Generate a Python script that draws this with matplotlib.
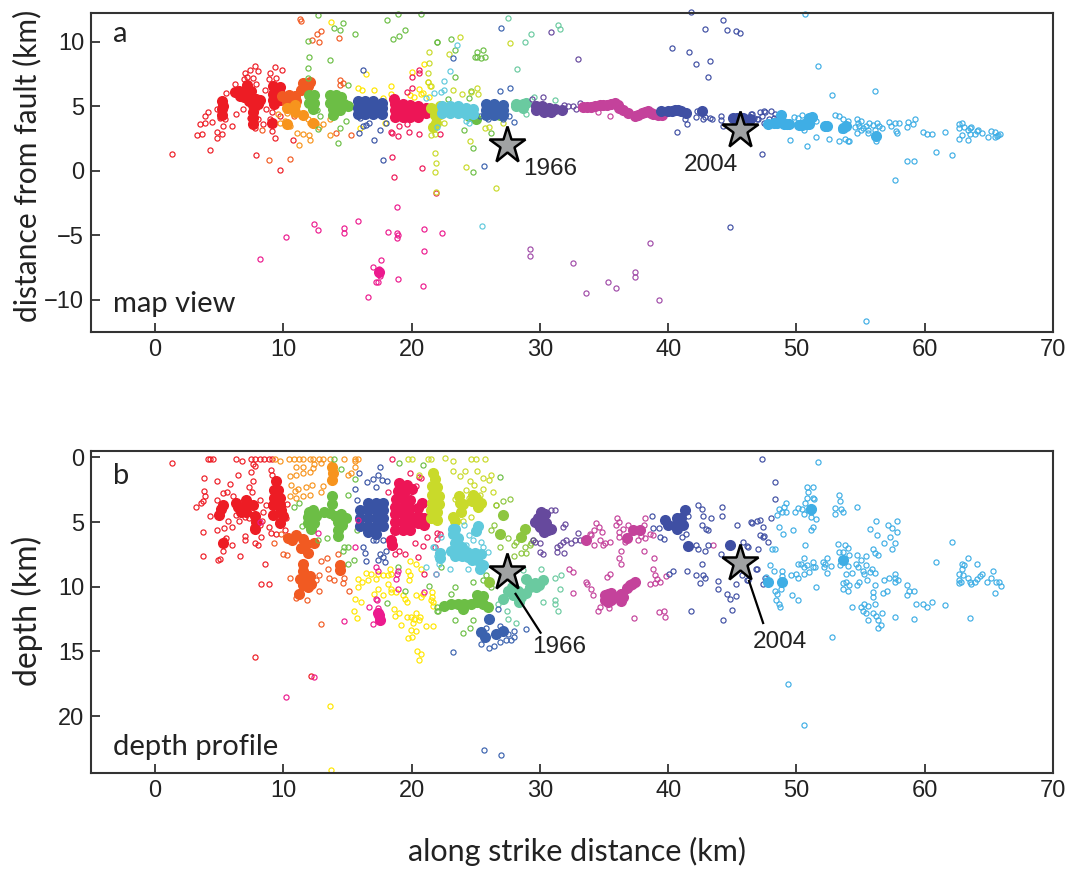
import numpy as np
import matplotlib
matplotlib.use('Agg')
import matplotlib.pyplot as plt

# colours of the clusters
c_red = '#ED1C24'
c_ored = '#F15A22'
c_orange = '#F7941D'
c_green = '#6CBE45'
c_blue = '#3953A4'
c_crim = '#ED1556'
c_pink = '#EC1A8E'
c_yellow = '#FFE600'
c_lime = '#C9DA2A'
c_cyan = '#5FC9DC'
c_lgreen = '#8DC63F'
c_blue2 = '#3B62AE'
c_teal = '#6ACAA0'
c_purple = '#66499D'
c_mag = '#C4429B'
c_vio = '#A04BA8'
c_indigo = '#3F4FA3'
c_sky = '#3FAEE5'

# ---- panel a, map view (along strike km, distance from fault km)
# *_core are the spots where the events overlap into a solid patch
red_a = [(1.33,1.32),(4.27,1.63),(3.25,2.75),(3.69,2.88),(3.51,3.6),(3.85,3.73),(3.9,4.25),(4.14,4.59),(4.45,3.81),(4.79,2.56),
 (4.84,3.0),(5.18,2.88),(5.31,3.52),(5.41,3.99),(5.02,4.12),(4.81,4.77),(5.49,6.04),(5.98,3.47),(6.32,4.43),(6.24,6.71),
 (6.84,4.82),(6.97,7.56),(7.36,7.82),(7.75,8.13),(8.01,7.75),(7.62,7.23),(7.83,6.71),(8.58,6.27),(8.97,7.62),(9.34,8.03),
 (9.88,7.8),(9.44,7.23),(8.01,3.99),(7.75,3.34),(8.4,3.6),(9.1,3.08),(9.31,2.56),(9.7,4.25),(10.74,2.36),(7.83,1.22),
 (9.7,0.1),(7.88,4.77),(8.66,4.77),(8.92,3.99),(7.36,4.12),(8.14,5.41),(6.9,7.1),(7.2,7.3),(8.9,7.1),(9.1,4.6)]
red_a_core = [(5.2,5.4),(5.3,5),(5.2,4.8),(5.2,4.3),(6.2,6.1),(6.5,6.2),(7,6.2),(7.5,6.2),(6.9,5.7),(7.4,5.7),
 (7.9,5.6),(7.2,6.7),(7.3,5.4),(7.6,5.1),(8,5.2),(8.2,5.5),(6.6,5.8),(7.6,4.6),(7.6,4.1),(7.6,3.6),
 (9.2,6.6),(9.7,6.5),(9.2,6),(9.7,6),(9.2,5.5),(9.7,5.5),(9.3,5.2),(9.1,3.7)]
ored_a = [(11.3,11.8),(11.4,11.6),(12.95,10.85),(12.6,10.65),(12.2,10.15),(12.75,10),(14.3,10.3),(14.4,7.05),(14.65,6.8),(14.4,6.7),
 (8.9,0.83),(10.55,0.96),(15.3,2.8),(14.1,2.95),(8.3,3.15),(10.8,4.25)]
ored_a_core = [(9.9,5.8),(10.4,5.9),(10.9,5.8),(10.3,5.3),(11,5.4),(11.4,6.3),(11.9,6.6),(12.1,6.9),(11.5,6.8)]
orange_a = [(11.2,2),(12,2.75),(12.1,2.4),(11.5,2.9),(11.05,2.95),(10.5,3.5),(9.6,4.4),(9.7,3.7),(13.65,2.8),(13.1,3.6),
 (12.55,3.75),(12.05,3.75),(11.9,4),(13.6,4),(10.5,5),(11,4.75),(11.5,4.5),(10.25,4.5),(12.8,3.4),(10.1,3.9)]
orange_a_core = [(10.3,4.9),(10.9,4.6),(11.5,4.3),(10.9,5.1),(12.3,3.7),(10.3,3.6)]
green_a = [(12.7,12.1),(11.9,10.1),(13.95,11.1),(14.45,10.9),(14.65,11.5),(15.6,10.65),(18.1,11.7),(18.9,12.2),(20.75,12.15),(19.45,10.9),
 (19,10.45),(18.55,10.2),(22,10),(12,8.85),(13.65,8.6),(11.9,7.95),(11.9,7.2),(15,6.7),(14.25,2.2),(12.7,3.25),
 (14.45,3.3),(14.9,3.85),(12.85,4.25),(12.6,4.75),(21.96,10),(23.1,10.25),(23.4,9.4),(23.35,7.3),(25.1,9.2),(25.55,9.4),
 (24.9,8.85),(25.1,8.85),(25.4,8.75),(25.75,8.85),(24.05,3.15),(24.8,1.75),(24.8,-0.1),(26.2,2.95),(22.8,5.55),(24.5,5.65),(24.65,6.2)]
green_a_core = [(12,5.9),(12.4,5.9),(12,5.3),(12.4,5.3),(12.3,4.8),(13.6,5.9),(14.1,5.9),(14.5,5.7),(13.6,5.3),(14.1,5.3),
 (14.7,5.2),(15,5),(13.9,4.8),(14.4,4.7),(13.9,4.3),(26.85,4.3),(24.5,4.25),(25,4.05)]
yellow_a = [(13.7,11.55),(16.45,7.55),(20.05,7.7),(21,8.3),(15.8,6.45),(16.1,6.3),(17.1,6.3),(18.35,6.6),(18.4,5.95),(19.85,5.9),
 (20.6,6.35),(20.2,5.75),(15.95,3.3),(17.9,3.75),(17.75,5.65),(20.9,6.05),(21.25,6.9),(21.4,6.6),(20.75,5.95),(21.35,5.7)]
blue_a = [(16.2,7.8),(15.9,2.95),(16.2,3.45),(16.45,3.55),(17.05,2.4),(17.55,3.2),(17.8,0.85),(18,3.7),(15.95,4.1),(16.7,3.75)]
blue_a_core = [(15.8,5.4),(16.4,5.4),(17,5.4),(17.7,5.3),(15.8,4.9),(16.4,4.9),(17,4.9),(17.7,4.9),(15.8,4.4),(16.4,4.4),
 (17,4.4),(17.7,4.4)]
crim_a = [(18.4,3),(18.5,2.95),(18.9,2.7),(19.8,3.05),(20.55,2.9),(18.5,1.05),(18.65,-0.5),(20.8,0.2),(21.9,-1.7),(22.2,2.9),
 (20,7.3),(20.55,7.8),(20.6,7.6),(19.6,6.15),(20.05,6.45),(19.05,3.45),(19.6,3.6)]
crim_a_core = [(18.7,5.2),(19.3,5.2),(19.9,5.1),(20.5,5),(21.1,4.9),(18.7,4.7),(19.3,4.7),(19.9,4.7),(20.5,4.7),(21.1,4.5),
 (18.7,4.2),(19.3,4.2),(19.9,4.2),(20.5,4.2),(18.6,5.6)]
pink_a = [(8.15,-6.8),(10.2,-5.1),(12.4,-4.15),(12.7,-4.6),(14.75,-4.4),(14.75,-4.8),(15.85,-3.9),(18.15,-4.75),(18.85,-2.8),(18.85,-4.85),
 (18.9,-5),(18.85,-5.2),(21,-4.5),(21,-6.2),(17.6,-6.95),(17,-7.45),(18.9,-8.4),(17.2,-8.6),(17.4,-8.6),(16.6,-9.75),
 (20.9,-8.9),(22.4,-4.85),(17.45,-7.6),(17.35,-8),(17.5,-8.15)]
pink_a_core = [(17.45,-7.85)]
lime_a = [(21.35,9.2),(21.35,8.4),(21.3,7.6),(21.25,6.9),(21.5,6.6),(21.85,1.35),(21.9,0.65),(21.85,-0.1),(21.9,-1.65),(22.9,9.1),
 (23.8,10.4),(26.55,-1.35),(24.55,2.3),(24.25,0.3),(25.7,3.3),(26,3.4),(27.1,3.75),(25.1,6.45),(25.2,6),(24.65,6.15),
 (23.2,6.3),(22.55,3.75),(21.5,2.8),(21.8,2.9),(21.4,4.8),(23.9,5.95),(27.65,9.95)]
lime_a_core = [(21.85,4.3),(21.9,3.7),(21.5,4.9),(22.2,5),(22.2,4.4),(21.7,3.4)]
cyan_a = [(23.5,9.75),(23,7.75),(22.5,6.95),(22.3,6.1),(21.75,6.05),(22.55,6.3),(24.5,3.7),(25.45,-4.3),(21.95,3.4),(24.25,3.85),(21.1,5.65)]
cyan_a_core = [(22.4,5),(23,5),(23.6,5),(24.2,4.9),(24.8,4.8),(22.4,4.5),(23,4.5),(23.6,4.5),(24.2,4.4),(24.8,4.4)]
blue2_a = [(26.95,11.1),(23.25,8.75),(26.85,6.2),(27.7,6.45),(25.65,0.4),(28,3.8),(27.6,4.25),(25.3,4.25),(25.95,4.05),(27.1,4)]
blue2_a_core = [(25.8,5.2),(26.4,5.2),(27.1,5.1),(25.8,4.7),(26.4,4.7),(27.1,4.7),(25.8,4.3),(26.4,4.3),(27.1,4.3)]
teal_a = [(27.5,11.9),(31.4,11.35),(31.6,11),(29.3,10.65),(28.8,10),(28.2,7.9),(29.5,5.75),(31.15,5.5),(28.9,4.45)]
teal_a_core = [(28.1,5.2),(28.7,5.2),(28.1,5),(28.7,4.9),(28.9,5.3)]
purple_a = [(30.85,10.8),(33,8.7),(30.25,5.75),(29.4,5.55),(31.85,5.15),(32.2,5),(32.55,5),(32.85,4.8),(33.1,5.25),(31.9,4.75)]
purple_a_core = [(29.7,5),(30.2,5),(30.7,4.9),(31.2,4.8),(31.7,4.7),(29.7,4.7),(30.3,4.6),(30.9,4.6)]
vio_a = [(29.2,-6.05),(29.2,-6.6),(32.55,-7.15),(33.6,-9.45),(35.3,-8.6),(35.95,-9.1),(37.4,-7.85),(37.4,-8.25),(38.6,-5.6),(39.3,-10)]
mag_a = [(34.5,4.55),(35.5,4.25)]
mag_a_core = [(33.35,4.95),(33.7,4.95),(34,4.95),(34.3,5),(34.65,5.1),(34.95,5.1),(35.25,5.15),(35.55,5.2),(35.85,5.3),(36.05,5.1),
 (36.2,4.9),(36.5,4.75),(36.9,4.5),(37.4,4.25),(37.65,4.35),(37.95,4.5),(38.2,4.55),(38.45,4.65),(38.65,4.5),(38.85,4.4),(39.2,4.3),(39.5,4.3)]
indigo_a = [(41.75,12.3),(44.3,11.7),(42.85,11),(44.6,10.9),(45.25,10.85),(45.6,10.7),(40.3,9.5),(41.6,9.25),(42.2,8.3),(43.25,8.5),
 (43.1,7.25),(40.7,3.05),(41.45,3.6),(41.3,4),(42.2,4.2),(42.75,4.05),(43.25,4.1),(42.85,4.2),(43.45,4.05),(42.25,4.65),
 (44.15,4.25),(44.3,3.45),(44.15,3.95),(46.5,4.45),(47.15,4.55),(47.55,4.6),(47,4),(47.3,1.3),(44.8,-4.35),(46.7,4.1),
 (46.45,4.45),(47.5,4.65),(48.05,4.65),(48.3,4.4),(48.25,4.1),(46.95,4),(47.5,3.7),(47.35,4.25),(47.85,4.05)]
indigo_a_core = [(39.45,4.65),(40,4.65),(40.3,4.65),(40.5,4.75),(40.8,4.7),(41,4.65),(41.4,4.5),(42.6,4.65),(45.05,4.1),(45.4,4.1),(45.8,4.1),(46.35,4)]
sky_a = [(50.7,12.2),(51.7,8.1),(52.75,5.85),(56.1,6.2),(49.5,2.4),(50.8,1.9),(51.55,2.65),(52.5,2.45),(53.35,2.35),(53.75,2.5),
 (54,2.35),(54.1,2.35),(53,4.3),(53.35,4.25),(53.6,4),(54,3.85),(54.7,4.05),(55,3.9),(54.7,2.95),(55.55,2.95),
 (56.2,2.35),(55.65,3.75),(56.3,3.75),(56.7,3.35),(57.25,3.8),(57.65,3.7),(58,3.75),(57.4,3.45),(58.7,3.8),(59.25,4),
 (59.05,3.6),(58.65,3.4),(59.85,3),(60.2,2.9),(60.6,2.9),(61.55,3),(60.9,1.5),(62.1,1.2),(58.65,0.8),(59.15,0.8),
 (57.65,-0.7),(55.45,-11.65),(62.65,2.45),(63.35,2.4),(62.9,2.8),(62.65,3.35),(62.7,3.6),(62.9,3.7),(63.05,3.4),(63.35,3.15),
 (63.55,3.35),(63.6,3.4),(63.5,2.9),(63.95,2.9),(64.05,3.1),(64.15,3.2),(64.5,2.95),(64.95,2.65),(65.15,3.1),(65.45,3.05),
 (65.45,2.6),(65.6,2.7),(65.7,2.8),(65.9,2.9),(49.8,4.15),(50.1,4.1),(50.45,4.3),(50.6,3.15),(51.5,3.85),(53.45,3.15),
 (54.6,3.4),(54.9,3.45),(55.2,3.3),(55.4,3.45),(55.6,3.2),(55.95,3.55),(56.15,3.2),(56.4,3.5),(57.75,3.1),(57.8,2.95),(55,3.2),(54.8,3.7)]
sky_a_core = [(47.75,3.6),(48.25,3.7),(48.5,3.7),(48.8,3.85),(49.05,3.6),(49.25,3.6),(49.45,3.6),(50.2,3.55),(50.4,3.55),(50.6,3.6),
 (50.8,3.6),(51,3.6),(51,3.9),(51,4.1),(51.2,4.2),(52.2,3.5),(52.4,3.5),(53.6,3.3),(53.9,3.5),(48.8,4.3),(56.2,2.7)]

# ---- panel b, depth profile (along strike km, depth km)
red_b = [(1.3,0.4),(4.1,0.1),(4.3,0.1),(4.5,0.1),(3.8,1.55),(4.85,1.8),(3.8,2.6),(3.9,2.95),(3.7,3.35),(3.55,3.55),
 (3.2,3.85),(4.25,4.55),(3.7,5.8),(3.7,7.6),(4.8,5.6),(5.4,5.45),(6,5.4),(4.85,3.3),(5.3,2.75),(5.6,2.7),
 (5.8,2.05),(6.45,1.35),(6.3,0.1),(6.75,0.3),(6,6.8),(6.6,7.65),(4.9,7.95),(5.05,7.85),(5.3,7.25),(5.2,6.7),
 (5.4,6.4),(5.55,6.2),(7,6.1),(7,6.4),(7.8,6.65),(8,6.75),(8.25,6.15),(8.55,8.2),(8.25,9.75),(8.9,9.75),
 (7.75,15.45),(12.15,16.9),(7.5,0.1),(7.8,0.1),(8.15,0.1),(8.5,0.1),(8.9,0.1),(9.1,0.15),(7.6,0.5),(7.75,0.65),
 (7.5,1.15),(7.65,1.8),(7.35,2.3),(7.55,2.65),(6.3,4.45),(7,4.6),(7.35,4.7),(7.6,5.35),(7.9,4.7),(8.15,5.2),
 (8.4,4.2),(9.05,0.95),(9.1,1.35),(8.65,3.7),(8.9,5.35),(9.05,5.85),(9.45,5.95),(10.1,5.6),(5.7,4.9),(6.5,4.9),
 (6.1,3),(8.2,3.3),(8.3,4.9),(10.3,3.6),(10.2,4.7)]
red_b_core = [(5.15,3.95),(5.3,3.7),(5,4.45),(6.3,3.5),(6.45,3.8),(6.7,4.2),(6.9,3.8),(7.1,3.3),(7.1,4.2),(7.2,3.7),
 (7.6,3.7),(7.8,4.5),(7.9,5),(7.8,5.5),(5.3,6.65),(9.45,1.85),(9.6,2.5),(9.3,2.5),(9.3,3.15),(9.7,3.1),
 (9.7,3.7),(9.2,3.7),(9.2,4.45),(9.85,4.05),(9.7,5.1),(10,4.5)]
ored_b = [(9.95,7.5),(10.25,7.55),(10.55,9.35),(11,10.85),(11.85,11),(12.8,10.35),(12.95,12.85),(15.1,10.35),(14.25,7.5),(13.95,9.45),
 (13.55,9.3),(14.65,9.7),(14.7,9.3),(13.4,7.75),(12.95,8),(12.8,9.1),(13.45,8.6),(12.55,9.5),(9.3,6.6),(9.8,5.9)]
ored_b_core = [(10.35,6.2),(11,6),(10.7,6.4),(11.5,6.3),(11.8,6.7),(11.4,7),(11.9,7.4),(11.5,8.2),(11.5,8.8),(11.8,9.4),
 (11.3,9.4),(11.5,9.9),(12.15,9.75),(11.9,10),(14.4,8.35),(14.4,8.7),(12.4,6.65),(11.25,10.55),(12.1,9.2)]
orange_b = [(9.35,0.1),(9.7,0.25),(10.4,0.1),(10.8,0.1),(11.2,0.1),(11.5,0.1),(12.05,0.1),(12.3,0.1),(12.8,0.1),(13.1,0.1),
 (13.6,0.1),(14.75,0.1),(15.55,0.1),(15.8,0.1),(15.6,0.25),(11,0.75),(11.55,0.7),(10.5,1.45),(11,1.35),(11.5,1.2),
 (12.05,1.1),(12.3,0.85),(11.8,2.25),(12.2,2.1),(10.6,2.1),(11.1,2.4),(10.5,3),(11,3.15),(11.5,3),(12.05,2.9),
 (12.95,2.65),(13.1,2.2),(15.05,1.35),(15.3,1.2),(15.55,0.75),(12.4,0.5),(12.9,0.4),(10.9,2.6)]
orange_b_core = [(13.75,0.7),(13.85,1.2),(13.75,1.75)]
green_b = [(10.8,3.8),(11.25,3.55),(11.45,5.3),(12.7,6.4),(13.4,6.25),(14.5,0.9),(13.95,0.15),(15,6.9),(14.7,6.9),(14.65,7.25),
 (15.5,7.95),(15,8.25),(15.6,1.65),(15,2.9),(15.7,5.6),(19,0.45),(20.9,0.6),(18.95,8.45),(21.35,9.95),(19.5,10.3),
 (18.1,11.25),(22,11.6),(22,11.85),(23.35,10),(23.1,10.55),(24.75,9.6),(25.55,9.5),(25.95,9.75),(26.2,10),(23.35,12.55),
 (24.8,12.55),(24,13.55),(24.55,13.2),(22.05,11.85),(26.9,1.5),(25.8,9.1),(22.3,8.5)]
green_b_core = [(11.9,4.6),(11.9,5.1),(12.15,5.5),(12.4,5.1),(12.55,4.5),(12.3,4.1),(12,4.2),(13.75,3),(13.75,3.6),(13.6,4.3),
 (14,4.5),(14.5,4.4),(14.9,4.7),(14.25,5),(14.6,5.2),(14.25,5.6),(14.25,6.1),(13.2,4.2),(22.55,11.45),(23.1,11.3),
 (23.6,11.3),(24.1,11.3),(24.6,11.3),(25.1,11.2),(25.6,11.3),(25.95,11.6),(25.1,10.65),(25.6,10.7),(24,11.7)]
blue_b = [(17.5,0.75),(17.4,1.35),(17,1.65),(16.5,1.9),(17.65,1.75),(18.05,1.8),(17.25,2.25),(15.6,2.45),(15.9,1.2),(15.7,3.3),
 (16.2,6.9),(16.35,7.4),(16.45,8),(17.5,7.45),(17.75,7.7),(18,7.2),(17.75,6.4),(17.2,6.4),(16.95,6.35),(17.9,8.1),(17.4,7.95)]
blue_b_core = [(16.6,3.5),(17.2,3.5),(17.8,3.5),(16,4.1),(16.6,4.1),(17.2,4.1),(17.8,4.1),(16,4.7),(16.6,4.7),(17.2,4.7),
 (17.8,4.7),(16,5.3),(16.6,5.3),(17.2,5.3),(17.8,5.3),(16.6,5.8),(17.2,5.9)]
crim_b = [(18.5,0.1),(20.75,1.55),(19.85,1.2),(18.15,2.7),(20.5,7.7),(19.45,7.5),(19.05,7.2),(18.7,7.45),(20.25,6.65),(20.9,6.85),
 (21,9),(21.85,2.95),(21.2,6.15),(22,5.85),(22.2,5.9),(22,6.3),(21.8,6.9),(20.6,1.5),(20.3,2.2)]
crim_b_core = [(19.05,2),(19.6,2.1),(20,2.4),(18.9,2.6),(19.5,2.6),(18.8,3.2),(19.4,3.2),(19.9,3.3),(18.7,3.8),(19.3,3.8),
 (19.9,3.9),(20.5,3.9),(20.8,3.5),(18.7,4.4),(19.3,4.4),(19.9,4.5),(20.5,4.5),(21,4.7),(18.7,5),(19.3,5),
 (19.9,5.1),(20.5,5.1),(21,5.2),(18.7,5.6),(19.3,5.6),(19.9,5.6),(18.4,6.4),(18.5,6.8)]
pink_b = [(8.15,5),(12.7,5.85),(15.85,4.85),(15.6,6.9),(12.4,17),(10.2,18.5),(14.75,12.65),(17,12.9),(16.65,11.6),(17.2,10.95),
 (17.3,11.05),(17.35,11.65),(17.25,8.45),(17.35,8.75),(18.9,8.75),(18.85,9),(18.8,9.4),(18.9,10.2),(20.95,10.4),(21.9,9)]
pink_b_core = [(17.45,12.2),(17.5,12.6),(17.35,12)]
yellow_b = [(13.6,19.2),(13.7,24.15),(16.45,8.9),(16.8,9),(15.8,9.4),(16.1,9.6),(15.8,10),(17.25,9.4),(16.6,9.5),(17.4,9),
 (17.75,9.1),(18.15,9.1),(18.4,9),(18.3,8.6),(18.15,9.75),(18.4,10.15),(18.4,10.4),(18.8,10.4),(17.4,10.2),(17.05,10.55),
 (17.75,10.65),(15.55,10.95),(16.05,11.2),(15.5,11.85),(15.7,12.45),(18.6,11.7),(19.05,12),(18.7,12.25),(19.2,12.95),(19.45,10.95),
 (19.6,11.2),(19.35,10.65),(20.3,10.6),(20.9,10.55),(20.75,10.8),(20.35,12),(19.95,12.35),(20.2,12.5),(20.65,12.35),(19.65,12.3),
 (20.1,12.8),(20.6,12.6),(19.95,13.35),(20.3,13.4),(19.75,13.95),(20,13.85),(20.4,15),(20.75,15.2),(20.6,15.7),(21.15,13.05),
 (21.65,13),(21.55,10.8),(21.65,11.2),(21.6,10.4),(19.85,8),(20.35,8.2),(19.7,8.75),(19.85,9.1),(19.8,9.5),(20.75,8.6),
 (21.5,11.05),(21.65,11.45)]
lime_b = [(21.25,0.1),(21.5,0.1),(22.6,0.05),(23.2,0.25),(24.65,0.1),(25,0.1),(25.75,0.1),(23.2,1.05),(23.75,1.4),(24.15,1.05),
 (25.1,1.05),(24.55,1.8),(25.55,1.55),(26.2,1.35),(26.05,1.75),(24.85,2.1),(25.6,2.4),(24.25,2.5),(26.55,3.7),(24.65,4.6),
 (24.5,3.15),(19.7,0.1),(20,0.1),(20.6,1.35),(26.35,2.65),(25.3,2.9),(23.4,3.2),(24,4.9)]
lime_b_core = [(21.65,1.2),(21.8,1.7),(21.6,2.2),(22,2.3),(21.6,2.9),(22.1,3),(21.6,3.5),(22.1,3.6),(21.5,4.1),(22,4.2),
 (21.5,4.7),(22,4.8),(23.7,3),(23.75,3.55),(24,3.6),(23.85,4.2),(23.4,4.9),(24.7,3.4),(25.05,3.15),(25.4,3.5),(25.15,3.8),(23.2,4.6),(24.8,2.9)]
cyan_b = [(22.3,6.15),(21.7,6.9),(24.1,5.25),(24.5,6),(24.75,6.4),(24.25,6.8),(25.55,6.9),(25.95,7.3),(22.15,8.2),(22.95,8.65),
 (24.4,8.6),(21.75,6.9),(21.9,9),(21.1,8.45),(21.95,7.6),(25.4,6.5)]
cyan_b_core = [(23.2,5.5),(23.4,5.5),(23.2,5.9),(23.6,6.2),(23.4,6.6),(23.9,6.9),(23.5,7),(24.3,7.3),(23.4,7.6),(23.9,7.6),
 (24.4,7.7),(24.7,7.9),(24.9,7.4),(25.1,7.9),(25.4,7.5),(25.3,8.6),(25.6,8.3),(25.15,5.3),(25,5.7),(22.2,7.8),(23.1,7.2),(22.2,7.4)]
lgreen_b = [(27.65,3.25),(27.15,3.4),(26.55,3.7),(26.45,5.25),(26.2,5.6),(27.5,6.25),(26.85,6.9),(28,6.8),(28.15,6.5),(28.8,6.9),
 (29.2,6.8),(27.95,7.65),(28.55,7.4),(28.95,7.4),(29.3,6.6),(29.45,6.4)]
lgreen_b_core = [(28.8,5.5),(28.55,6.15),(26.85,5.95),(27.1,4.45),(26,9.6)]
teal_b = [(30.05,8.65),(31.2,9.3),(31.65,9.1),(31.6,10.2),(30.25,11.15),(31.15,11.05),(31.4,11.9),(31.15,11.3),(27.5,12.5),(27.4,11.9),
 (28.15,12.8),(26.7,11.3),(28.7,8.7)]
teal_b_core = [(27.5,10.3),(27.8,10),(27.9,10.6),(28.3,10.3),(28.5,10.8),(28.95,9.4),(29.2,10),(29.6,9.7),(29.7,10),(29.9,9.9),
 (30.25,9.5),(28.4,11.2),(27.1,10.95),(28.9,10.5)]
blue2_b = [(26.7,11.7),(26.05,14.75),(26.45,14.55),(25.4,14.45),(26.85,14.3),(27.35,14.1),(27.75,14.1),(28,13.9),(28,13.4),(27.5,13.65),
 (28.9,13.3),(26.85,13),(25.8,13.15),(23.25,15.05),(25.65,22.6),(26.95,23)]
blue2_b_core = [(25.4,13.5),(25.7,13.9),(26.6,13.65),(27.15,13.4),(26.05,12.5)]
purple_b = [(31.15,4.05),(30.9,4.05),(31.95,5.15),(31.8,5.35),(30,7.3),(30.25,7.5),(31.3,7.3),(31.85,7.35),(31.55,6.8),(31.3,6.9),
 (31.8,6.5),(32.05,6.35),(32.4,6.65),(32.7,6.35),(32.95,5.85),(33.1,6.4),(29.6,6.5),(30,6.65),(29.45,6.35)]
purple_b_core = [(29.85,4.7),(30.25,4.6),(30.5,5.1),(30,5.35),(30.9,5.5),(30.35,5.75),(30.1,4.2),(30.4,4.4),(29.9,5.2),(30.6,5.6),(29.6,5),(30.5,5.3)]
mag_b = [(34.4,5.1),(34.6,5.35),(34.8,5.75),(34.25,5.6),(33.9,5.9),(34,6),(34.65,6.4),(35.05,6.65),(35.45,6.5),(34.2,6.8),
 (34.9,6.8),(36,4.65),(36.15,5),(35.9,5.2),(36.15,5.75),(36.2,6.15),(36.6,6.5),(37.15,5.5),(37.65,6.4),(38.2,4.65),
 (38.15,5.25),(38.55,5.9),(38.8,6),(38.1,7.2),(38.9,7.75),(36.3,7.25),(36.2,7.8),(36.35,8.2),(35.5,9.05),(35.2,9.25),
 (33.6,9.6),(33.7,9.8),(33.95,10.15),(34.15,10.65),(32.55,10.45),(34.5,11.85),(34.65,11.6),(35.4,11.65),(37.3,12.4),(39.25,11.95),
 (39.65,11.9),(39.75,12.3),(38.85,8.65),(38.95,9.1),(39.1,9.4),(38.6,9.75),(39,9.7),(39.35,9.6),(39.8,9.2),(32.25,8.6),
 (32.55,8.85),(43.5,6.8),(36.5,5.5),(37.9,6.1),(38.2,6.2),(36.9,5.2)]
mag_b_core = [(33.6,6.4),(35.05,10.6),(35.3,10.55),(35.55,10.5),(35.1,11),(35.3,11.2),(35.55,11),(36.2,10.8),(36.35,10.55),(36.5,10.8),
 (36.35,11.1),(36.8,10.1),(37,9.9),(37.2,9.8),(37.4,9.65),(37.25,5.6),(37.8,5.6),(36.75,6.25)]
indigo_b = [(38.7,4.55),(38.85,5.45),(39.25,5.45),(39.35,6.15),(39.7,6.3),(41.1,6.15),(41.4,5.95),(41.55,4.55),(42.3,3.7),(42.6,4),
 (42.7,4.55),(43.35,4.7),(42.65,5.25),(42.95,5.5),(43.1,5.6),(44.2,3.85),(44.2,4.5),(45.35,5.25),(42.2,6.8),(42.35,7.05),
 (42.85,7.2),(43.1,6.8),(44.15,7.5),(46.25,6.9),(47,7.05),(46.5,5.05),(47.15,4.85),(47.4,5.35),(47.15,6),(47.4,6.15),
 (47.3,0.1),(41.45,8.8),(42.65,8.2),(42.2,9.1),(42.7,9.1),(42.85,9.3),(42.45,9.7),(40.35,8.75),(40.1,9),(43.9,9.55),
 (43.9,10.15),(44.6,10.55),(44.8,10.95),(45.25,9.8),(45.25,10.75),(46.25,9.45),(46.95,8.65),(45,11.8),(44.3,12.55),(41.75,11.85),
 (48.3,1.9),(48.35,3.25),(48.05,4.7),(46.95,4.95),(46.45,5),(47.8,6.5),(47.5,6.1),(45.85,6.55),(46.15,6.85),(46.85,8.65),
 (45.75,9.1),(46.15,9.45),(47.55,9.3),(47.4,9.8)]
indigo_b_core = [(39.75,4.85),(40,5.25),(40.65,4.7),(41,4.7),(40.7,5.1),(41.15,5.25),(41.3,4.05),(40.65,5.5),(41.55,6.85),(44.8,6.8)]
sky_b = [(51.7,0.35),(53.35,2.9),(53.4,3.4),(54.7,3.85),(53,3.9),(53.5,3.95),(53,4.35),(53.65,4.25),(49.15,3.55),(48.65,3.95),
 (49.05,3.8),(48.9,4.2),(49.15,4.2),(48.5,4.45),(49.85,4.25),(50.1,3.9),(50.45,3.95),(49.7,5.6),(48.65,5.35),(48.95,5.9),
 (50.7,6.8),(50.85,2.3),(51.25,2.3),(50.9,2.65),(50.85,3.15),(51.25,3.15),(50.65,3.55),(51.4,3.25),(51.1,5.6),(51.25,5.35),
 (51.5,4.75),(50.6,4.35),(48.1,7.1),(48.35,7.1),(47.9,8.35),(48.25,8.8),(47.65,9.25),(48.4,11.05),(48.6,11.3),(48.7,11.6),
 (49.65,10.6),(50.15,11),(49.55,9.1),(49.95,9),(50.15,9.3),(50.35,8.2),(50.1,8.2),(50.6,7.8),(50.6,8.5),(50.85,8.35),
 (51.25,8.1),(51.25,8.5),(51,8.85),(50.6,9),(51.45,8.5),(51.55,10.05),(52.05,8.1),(52.4,7.8),(52.15,8.5),(52.4,8.95),
 (52.7,8.4),(52.25,8.2),(52.75,13.85),(49.35,17.5),(50.55,20.7),(53.2,6.7),(53.8,6.8),(54,7),(53.35,7.3),(53.6,7.3),
 (54.1,7.55),(53.4,8.35),(54,8.4),(54.75,7.55),(55.45,7.65),(54.65,8.2),(55.05,7.95),(55.4,8.35),(54.8,8.45),(55.15,8.75),
 (55.25,9.05),(55.7,8.85),(55.9,8.6),(56.15,8.9),(53.85,9.05),(54.3,8.9),(53.6,9.7),(53.9,9.65),(54.1,9.85),(53.65,10.2),
 (54,10.3),(54.75,9.9),(54.9,9.6),(55.5,9.45),(54.35,11.55),(55,11.6),(55.3,11.3),(55.55,11.45),(55.15,11.85),(55.4,12),
 (55.6,12.55),(56.1,9.85),(55.95,10.4),(56,10.8),(56.1,11.3),(56,12.05),(56.2,12.25),(56.35,12.6),(56.35,13.15),(56.6,12.95),
 (56.65,12.05),(56.75,10.5),(57.05,10.35),(56.85,9.45),(57.2,9.3),(57.7,9),(57.65,9.3),(57.9,9.45),(57.7,9.65),(57.65,12.35),
 (56.2,4.95),(55.7,5.5),(56.3,6),(57.1,5.25),(57.45,5.45),(57.85,4.95),(57.85,5.75),(57.3,6.15),(56.85,6.6),(57.7,6.6),
 (57.45,7.05),(55.95,7.05),(56.15,7.4),(56.35,7.55),(58.65,9.85),(58.65,10.65),(58.8,10.3),(59.15,10.35),(59.3,11.3),(59.15,12.5),
 (59.85,11.35),(60.2,11.55),(60.6,11.15),(61.55,11.4),(60.9,8.1),(62.1,6.55),(63.5,12.45),(63.35,7.75),(64.05,8.25),(62.9,8.2),
 (63.05,8.35),(62.9,8.6),(62.65,9),(62.95,9.1),(62.65,9.45),(62.85,9.65),(63.35,9.3),(63.5,9.6),(63.6,9.8),(63.95,9.6),
 (64.05,9.4),(64.3,9.15),(64.5,9),(64.85,9.6),(65.15,9.3),(65.3,8.8),(65.55,9.65),(65.8,9.6),(65.95,9.95),(65.45,10.5),(62.65,9.7),
 (48.5,10.55),(48.9,8.75),(48.3,10.3),(48.8,10.2),(48.9,9.2),(51.1,3.8),(51.1,4.2),(51.1,4.6),(50.9,4.1),(51.3,4)]
sky_b_core = [(51.1,4),(53.6,7.95),(47.75,9.65),(48.9,9.65)]

# star positions, 1966 and 2004 events
quake_x = [27.4, 45.6]
quake_map = [2.0, 3.2]
quake_depth = [8.85, 8.15]

ticks_x = [0, 10, 20, 30, 40, 50, 60, 70]
ticks_map = [-10, -5, 0, 5, 10]
ticks_depth = [0, 5, 10, 15, 20]

panel_a = [(red_a,red_a_core,c_red),(ored_a,ored_a_core,c_ored),(orange_a,orange_a_core,c_orange),
           (pink_a,pink_a_core,c_pink),(yellow_a,[],c_yellow),(green_a,green_a_core,c_green),
           (blue_a,blue_a_core,c_blue),(crim_a,crim_a_core,c_crim),(lime_a,lime_a_core,c_lime),
           (blue2_a,blue2_a_core,c_blue2),(cyan_a,cyan_a_core,c_cyan),(teal_a,teal_a_core,c_teal),
           (purple_a,purple_a_core,c_purple),(vio_a,[],c_vio),(mag_a,mag_a_core,c_mag),
           (indigo_a,indigo_a_core,c_indigo),(sky_a,sky_a_core,c_sky)]
panel_b = [(red_b,red_b_core,c_red),(orange_b,orange_b_core,c_orange),(ored_b,ored_b_core,c_ored),
           (yellow_b,[],c_yellow),(green_b,green_b_core,c_green),(blue_b,blue_b_core,c_blue),
           (pink_b,pink_b_core,c_pink),(crim_b,crim_b_core,c_crim),(lime_b,lime_b_core,c_lime),
           (cyan_b,cyan_b_core,c_cyan),(lgreen_b,lgreen_b_core,c_lgreen),(teal_b,teal_b_core,c_teal),
           (blue2_b,blue2_b_core,c_blue2),(purple_b,purple_b_core,c_purple),(mag_b,mag_b_core,c_mag),
           (indigo_b,indigo_b_core,c_indigo),(sky_b,sky_b_core,c_sky)]

W, H = 1076.0, 871.0
dark = '#333333'
label_font = 'Lato'
num_font = 'Liberation Sans'
ink = '#222222'

fig = plt.figure(figsize=(W/100, H/100), dpi=100)
ax1 = fig.add_axes([91/W, 1-332/H, 962/W, 319/H])
ax2 = fig.add_axes([91/W, 1-773/H, 962/W, 322/H])


def draw_events(ax, groups):
    for pts, core, col in groups:
        p = np.array(pts)
        ax.plot(p[:,0], p[:,1], 'o', ms=3.7, mfc='none', mec=col, mew=0.85, clip_on=False)
        if len(core) > 0:
            q = np.array(core)
            ax.plot(q[:,0], q[:,1], 'o', ms=8.0, mfc=col, mec=col, mew=0, clip_on=False)


draw_events(ax1, panel_a)
draw_events(ax2, panel_b)

for ax, ys in ((ax1, quake_map), (ax2, quake_depth)):
    ax.plot(quake_x, ys, '*', ms=28, mfc='#A0A2A3', mec='black', mew=1.8, zorder=6)

# leader lines in the depth panel
ax2.plot([28.1, 30.05], [10.55, 13.55], color='black', lw=1.6, zorder=5)
ax2.plot([46.3, 47.4], [9.55, 12.8], color='black', lw=1.6, zorder=5)

ax1.set_xlim(-5, 70)
ax1.set_ylim(-12.5, 12.25)
ax2.set_xlim(-5, 70)
ax2.set_ylim(24.4, -0.5)
ax1.set_yticks(ticks_map)
ax2.set_yticks(ticks_depth)

for ax in (ax1, ax2):
    ax.set_xticks(ticks_x)
    ax.tick_params(direction='in', length=6.7, width=1.3, color=dark, labelsize=17, labelcolor=ink, pad=5)
    for lab in ax.get_xticklabels() + ax.get_yticklabels():
        lab.set_fontfamily(num_font)
    for s in ax.spines.values():
        s.set_linewidth(1.5)
        s.set_color(dark)

ax1.text(-3.3, 10.6, 'a', fontsize=21, family=label_font, color=ink, va='center')
ax1.text(-3.3, -10.3, 'map view', fontsize=21, family=label_font, color=ink, va='center')
ax2.text(-3.3, 1.4, 'b', fontsize=21, family=label_font, color=ink, va='center')
ax2.text(-3.3, 22.4, 'depth profile', fontsize=21, family=label_font, color=ink, va='center')

ax1.text(28.7, 0.15, '1966', fontsize=17.5, family=num_font, color=ink, va='center')
ax1.text(41.2, 0.45, '2004', fontsize=17.5, family=num_font, color=ink, va='center')
ax2.text(29.4, 14.65, '1966', fontsize=17.5, family=num_font, color=ink, va='center')
ax2.text(46.6, 14.25, '2004', fontsize=17.5, family=num_font, color=ink, va='center')

fig.text(27/W, 1-166/H, 'distance from fault (km)', rotation=90, fontsize=21.6, family=label_font,
         color=ink, ha='center', va='center')
fig.text(27/W, 1-611/H, 'depth (km)', rotation=90, fontsize=23, family=label_font,
         color=ink, ha='center', va='center')
fig.text(577/W, 1-851/H, 'along strike distance (km)', fontsize=22, family=label_font,
         color=ink, ha='center', va='center')

fig.savefig('out.png', dpi=100)
